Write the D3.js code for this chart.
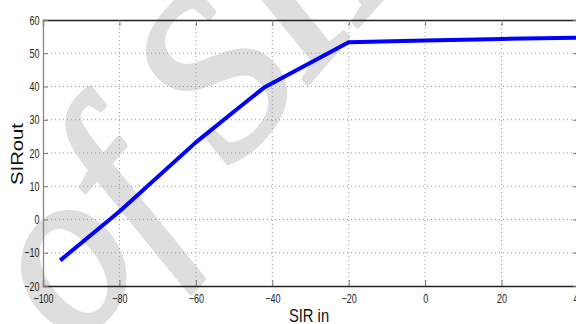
<!DOCTYPE html>
<html><head><meta charset="utf-8">
<script src="https://cdn.jsdelivr.net/npm/d3@7"></script>
<style>body{margin:0;background:#fff}svg{display:block}</style>
</head><body>
<svg id="c" width="576" height="324"></svg>
<script>
const sirIn  = [-95.5, -80, -60, -50, -42, -20, 0, 20, 40];
const sirOut = [-12.3, 2.4, 23.2, 32.5, 39.8, 53.3, 53.8, 54.3, 54.7];
const xTicks = [-100, -80, -60, -40, -20, 0, 20, 40];
const yTicks = [-20, -10, 0, 10, 20, 30, 40, 50, 60];
const xLabel = "SIR in";
const yLabel = "SIRout";
const watermark = "of SID";

const svg = d3.select("#c");
const L = 43, R = 578, T = 20, B = 286;
const x = d3.scaleLinear().domain([-100, 40]).range([L, R]);
const y = d3.scaleLinear().domain([-20, 60]).range([B, T]);

// watermark
svg.append("text").attr("transform", "translate(76,350) rotate(-49)")
  .attr("font-family", "Liberation Serif").attr("font-style", "italic")
  .attr("font-size", 232).attr("fill", "#dedede")
  .attr("stroke", "#dedede").attr("stroke-width", 5).attr("stroke-linejoin", "round")
  .text(watermark);

// grid
const g = svg.append("g");
g.selectAll(".gx").data(xTicks.slice(1, -1)).join("line")
  .attr("x1", d => x(d)).attr("x2", d => x(d)).attr("y1", T).attr("y2", B)
  .attr("stroke", "#999").attr("stroke-width", 1).attr("stroke-dasharray", "1,3");
g.selectAll(".gy").data(yTicks.slice(1, -1)).join("line")
  .attr("y1", d => y(d)).attr("y2", d => y(d)).attr("x1", L).attr("x2", R)
  .attr("stroke", "#999").attr("stroke-width", 1).attr("stroke-dasharray", "1,3");

// axes
const font = "'Liberation Sans',Arial,sans-serif";
const ax = svg.append("g").attr("transform", `translate(0,${B})`)
  .call(d3.axisBottom(x).tickValues(xTicks).tickSize(-6).tickPadding(10).tickFormat(d3.format("d")));
const axT = svg.append("g").attr("transform", `translate(0,${T})`)
  .call(d3.axisTop(x).tickValues(xTicks).tickSize(-6).tickFormat(""));
const ay = svg.append("g").attr("transform", `translate(${L},0)`)
  .call(d3.axisLeft(y).tickValues(yTicks).tickSize(-5).tickPadding(5).tickFormat(d3.format("d")));
const ayR = svg.append("g").attr("transform", `translate(${R},0)`)
  .call(d3.axisRight(y).tickValues(yTicks).tickSize(-5).tickFormat(""));
[ax, axT, ay, ayR].forEach(a => {
  a.selectAll(".tick line").attr("stroke", "#777");
  a.selectAll("text").attr("font-family", font).attr("font-size", 12.5).attr("fill", "#222")
    .attr("transform", "scale(0.72,1)");
});
ax.selectAll("text").attr("dy", "0.55em");
ax.select(".domain").attr("stroke", "#222").attr("stroke-width", 1.3);
axT.select(".domain").attr("stroke", "#222").attr("stroke-width", 1.3);
ay.select(".domain").attr("stroke", "#888").attr("stroke-width", 1.3);
ayR.select(".domain").attr("stroke", "#888");

// line
const pts = sirIn.map((v, i) => [v, sirOut[i]]);
svg.append("path").datum(pts)
  .attr("d", d3.line().x(d => x(d[0])).y(d => y(d[1])))
  .attr("fill", "none").attr("stroke", "#0000ff").attr("stroke-width", 4)
  .attr("stroke-linejoin", "round");

// labels
svg.append("text").attr("transform", "translate(309,322) scale(0.82,1)").attr("text-anchor", "middle")
  .attr("font-family", font).attr("font-size", 18).attr("fill", "#111").text(xLabel);
svg.append("text").attr("transform", "translate(23,154) rotate(-90)").attr("text-anchor", "middle")
  .attr("font-family", font).attr("font-size", 16).attr("fill", "#111")
  .attr("textLength", 62).attr("lengthAdjust", "spacingAndGlyphs").text(yLabel);
</script>
</body></html>
